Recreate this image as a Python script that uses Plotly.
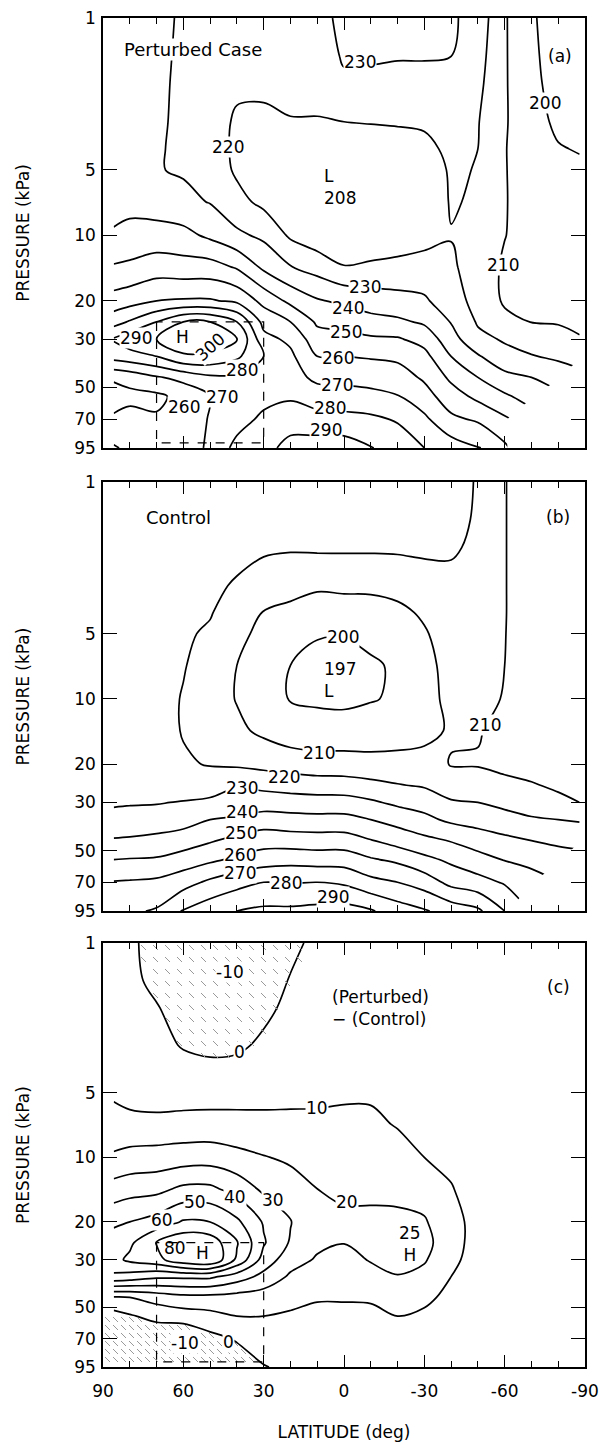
import numpy as np
import plotly.graph_objects as go

# ---------------------------------------------------------------- data
LAT = [86, 80, 70, 60, 50, 40, 30, 20, 10, 0, -10, -20, -30, -40, -50, -60, -70, -80, -88]
P_KPA = [1, 1.5, 2, 3, 4, 5, 7, 10, 14, 20, 25, 30, 36, 45, 55, 70, 95]

# zonal-mean temperature (K); one profile per latitude, 1 kPa -> 95 kPa.
# None marks levels below the Antarctic surface.
T_PERTURBED = [
    [236, 236, 236, 235, 235, 235, 237, 241, 251, 264, 276, 291, 284, 262, 254, 262, 271],
    [236, 236, 236, 235, 235, 235, 237, 243, 252, 266, 281, 296, 286, 264, 257, 264, 268],
    [232, 232, 232, 231.5, 231, 230.5, 235, 244, 255, 270, 290, 300, 290, 269, 258, 261, 263],
    [229, 228.5, 228, 228, 228, 229, 232.5, 243, 254, 271, 300, 305, 299, 273, 263, 262, 264],
    [228, 227, 226, 225, 225, 226, 229.5, 238, 254, 271, 300, 306, 298, 278, 270, 271, 272],
    [226, 225, 222, 218.5, 218, 218.5, 223, 232, 249, 268, 290, 301, 292, 278, 274, 276, 283],
    [226, 225, 222, 218, 217, 216.5, 217.5, 228, 238, 257, 267, 273, 280, 279, 277, 282, 287],
    [226, 225, 223, 219.5, 216, 214, 213.5, 218.5, 230.5, 247.5, 260, 268, 272, 275, 278.5, 286, 293],
    [226, 225, 223, 219.5, 214, 211, 210, 214, 226, 241, 248.5, 254, 260, 267, 276, 283, 295],
    [233, 231, 228.5, 220, 213, 209, 208, 212, 220.5, 238, 247, 253, 260, 267, 274, 283, 295],
    [234, 231, 228, 220.5, 215, 211, 209, 212, 222, 235, 243.5, 251.5, 259, 266.5, 272.5, 282, 290.5],
    [234, 230.5, 227.5, 221, 215.5, 211.5, 209.5, 213, 223.5, 233, 242, 251, 258, 264.5, 270.5, 279, 286],
    [234, 230.5, 227.5, 222, 216.5, 213, 211, 215, 225.5, 231, 238.5, 246.5, 253, 258.5, 264, 272, 280],
    [231.5, 230, 228, 225, 223, 221.5, 221, 219.5, 222, 226, 229.5, 234, 240, 248, 254.5, 262, 275],
    [226, 224, 222.5, 220.5, 220, 219.5, 218.5, 215, 214, 215.5, 219, 222.5, 231, 240, 247.5, 258.5, 271],
    [211, 211, 211, 211, 210.5, 210.5, 210.5, 210.2, 209, 209, 212, 219, 223, 233, 241.5, 251.5, 262],
    [201, 201.5, 202, 203, 204, 205, 206, 207, 207.5, 208.5, 209.8, 216, 220.5, 230, 236, None, None],
    [196, 196.5, 197, 198.5, 200.5, 202, 204, 205.5, 206.5, 207.5, 209.5, 212.5, 218.5, 225, None, None, None],
    [194, 194.5, 195.5, 197.5, 199.5, 201.5, 203.5, 205, 206, 207, 208.5, 210.5, 215, None, None, None, None],
]

T_CONTROL = [
    [225, 225, 225, 225, 225, 225, 225, 225, 225.5, 226.5, 227.5, 229, 232.5, 241, 250, 260.5, 268],
    [224.5, 224.5, 224.5, 224.5, 224.5, 224.5, 224.5, 224.5, 225, 226, 227.5, 229.3, 233, 241.5, 250.5, 261, 268.5],
    [223.5, 223.5, 223, 223, 223, 223, 223, 223, 223.5, 225, 226.5, 229.5, 234, 243, 251, 262, 271],
    [223, 223, 222.5, 222, 221.5, 221, 220.5, 219.5, 219.5, 221, 225, 230.5, 236, 245, 254.5, 266, 281],
    [222.5, 222, 221.5, 221, 220.5, 219, 216.5, 215, 215.5, 219.5, 225, 232, 240, 249, 258, 272, 286],
    [222.5, 222, 221.5, 219.5, 216, 213, 210, 209.5, 212, 218.5, 229, 235.5, 241, 253, 262, 276.5, 290],
    [222.5, 222, 221, 217, 209.5, 207, 204.5, 204, 208, 217, 227.5, 235, 244.5, 256, 265, 280, 292],
    [222.5, 222, 221, 213.5, 207.5, 204, 200, 199.5, 204.5, 215.5, 226, 234.5, 243.5, 255, 266.5, 279.5, 292],
    [223, 222.5, 221.5, 211.5, 205, 200.5, 198, 198.5, 204, 214, 225, 234, 243, 254.5, 265.5, 280, 293],
    [223, 222.5, 221.5, 212, 205.5, 200.5, 197, 198, 204, 214, 224.5, 234, 243, 254.5, 265.5, 278.5, 294],
    [223, 222.5, 221.5, 212, 206, 202, 199, 199.5, 204, 213.5, 222.5, 231.5, 240, 250.5, 261, 273, 291],
    [223, 222.5, 221.5, 213.5, 207.5, 204, 201, 201, 205, 213.5, 220.5, 228, 236.5, 246, 258, 270, 285],
    [223, 222.5, 221.5, 216.5, 211.5, 209, 206.5, 206, 207.5, 213, 219, 226, 232.5, 242.5, 252.5, 265.5, 281],
    [222.5, 222, 221, 218, 216, 215, 214, 213, 211, 209.5, 215, 221, 228, 239.5, 248, 257, 276],
    [219.5, 219.2, 218.5, 217.5, 216.5, 215.5, 214, 212.5, 210.5, 209.5, 213.5, 220, 226, 235.5, 243.5, 253.5, 272],
    [210.3, 210.3, 210.3, 210.3, 210.3, 210.2, 210, 209.5, 208, 208.5, 211.5, 217.5, 223.5, 232.5, 239.5, 249, 260],
    [206, 206, 206, 206, 206, 206, 206, 206, 206, 207.5, 210.5, 215.5, 221, 230, 236.5, 245, None],
    [206, 206, 206, 206, 206, 206, 206, 206, 206, 207, 209, 211.5, 220, 228.5, 233.5, None, None],
    [206, 206, 206, 206, 206, 206, 206, 206, 206, 206.5, 207.5, 210, 219, 227.5, None, None, None],
]

# perturbed minus control (K)
T_DIFF = [
    [3, 3, 3.5, 4.5, 6, 8.8, 13, 21.5, 34, 48, 55, 57, 48, 9, -4, -8, -9],
    [2, 2, 2.5, 3.5, 4.5, 6, 13.5, 23, 36, 50, 58, 62, 46, 10, -1, -8, -9],
    [-4, -2, 0.5, 2, 3.5, 5, 13, 24, 37, 54, 70.5, 67, 42, 14, 3, -8, -9],
    [-9, -6, -3.5, -0.5, 2.5, 5.5, 13.5, 25, 42, 61, 78, 77, 42, 17, 5, -10, -9],
    [-10, -9.5, -7, -2, 2.5, 6, 13.5, 25.5, 42, 60, 76, 80, 42, 17, 7, -3, -8],
    [-9.5, -8.5, -6.5, -1.5, 3, 6.5, 13, 23, 36, 52, 61, 58, 35, 16, 10, 1, -6],
    [-6, -4, -2, 1.5, 4, 7, 12.5, 20.5, 28, 39, 41, 36, 27, 15, 10, 5, -0.5],
    [-2, 0.5, 2, 4, 5.5, 7.3, 12.5, 18.5, 24, 30.5, 29, 24, 18.5, 13.5, 8.5, 5, 2],
    [2, 2.5, 3.5, 5, 6.5, 8, 12, 15, 20, 22.5, 22, 19, 16, 11, 7, 4, 2],
    [1.5, 2.5, 3.5, 5.5, 7, 8.8, 12, 15, 18.5, 21.5, 20.2, 17.5, 15.5, 11, 7, 4, 2],
    [1.5, 2.5, 3.5, 5.5, 7, 9, 11.5, 14, 18, 22, 23, 20.5, 17.5, 11.5, 7, 4, 2],
    [1.5, 2, 3, 4.5, 6, 7, 9.5, 13, 17.5, 22, 25, 23.5, 19.5, 14, 10, 6, 3],
    [1, 1.5, 2, 3, 4, 5, 7, 10, 15.5, 21, 23.5, 21, 17, 12.5, 8, 5, 2.5],
    [1, 1, 1.2, 2, 3, 3.5, 5, 8, 10.5, 13, 13, 12, 10, 7, 5, 3, 1.5],
    [1, 1, 1, 1.2, 1.5, 2, 3, 4.5, 6, 7, 7, 6.5, 5.5, 4, 3, 2, 1.2],
    [1, 1, 1, 1.5, 1.5, 2, 2.5, 3, 3.5, 4, 4, 4, 3.5, 3, 2.5, 2, 1.5],
    [1, 1, 1, 1, 1.5, 1.5, 2, 2, 2.5, 3, 3, 3, 2.5, 2, 2, 1.5, 1],
    [1, 1, 1, 1, 1, 1, 1.5, 1.5, 2, 2, 2, 2, 2, 1.5, 1.5, 1, 1],
    [1, 1, 1, 1, 1, 1, 1, 1, 1.5, 1.5, 1.5, 1.5, 1.5, 1, 1, 1, 1],
]

PRESSURE_TICKS = [1, 5, 10, 20, 30, 50, 70, 95]
LAT_TICKS = [90, 60, 30, 0, -30, -60, -90]

# smoke-layer box (latitude edges, pressure edges)
SMOKE_LAT = [70, 70, 30, 30, 70]
SMOKE_P = [25, 90, 90, 25, 25]

# contour-level labels: (lat, kPa, text)
LABELS_A = [
    (43.3, 3.92, "220"), (-6, 1.59, "230"), (-75, 2.46, "200"), (-59.4, 13.7, "210"),
    (-7.8, 17.3, "230"), (-1.5, 21.6, "240"), (-0.7, 27.8, "250"), (2.2, 36.6, "260"),
    (2.6, 48.8, "270"), (5.2, 62.2, "280"), (6.7, 78.6, "290"), (77.7, 29.6, "290"),
    (38.1, 41.6, "280"), (45.6, 55.4, "270"), (59.8, 61.5, "260"),
]
LABELS_B = [
    (0.4, 5.18, "200"), (9.3, 17.8, "210"), (-52.6, 13.2, "210"), (22.4, 22.9, "220"),
    (38.1, 25.7, "230"), (38.1, 33.2, "240"), (38.5, 41.5, "250"), (38.8, 52.5, "260"),
    (38.8, 63.5, "270"), (21.7, 70.6, "280"), (4.1, 81.9, "290"),
]
LABELS_C = [
    (42.6, 1.37, "-10"), (39.2, 3.22, "0"), (10.1, 5.88, "10"), (-1.1, 16.1, "20"),
    (26.5, 15.8, "30"), (40.7, 15.3, "40"), (55.6, 16.1, "50"), (68, 19.6, "60"),
    (43, 72.6, "0"), (59.4, 73.4, "-10"),
]

# ---------------------------------------------------------------- layout geometry
FONT = "DejaVu Sans"
W, H = 599, 1450
M = dict(l=103, r=14, t=18, b=83)
DOMAINS = [[0.6813, 1.0], [0.3380, 0.6560], [0.0, 0.3143]]
AX = [("x", "y"), ("x2", "y2"), ("x3", "y3")]


def contour(cols, start, end, xa, ya, lat_min=None):
    lats = list(LAT)
    data = [list(c) for c in cols]
    if lat_min is not None:
        keep = [i for i, la in enumerate(LAT) if la <= lat_min]
        lats = [LAT[i] for i in keep]
        data = [data[i] for i in keep]
    z = np.array([[np.nan if v is None else v for v in c] for c in data], float).T
    return go.Contour(
        x=lats, y=P_KPA, z=z, xaxis=xa, yaxis=ya,
        autocontour=False, connectgaps=False,
        contours=dict(start=start, end=end, size=10, coloring="lines", showlabels=False),
        colorscale=[[0, "black"], [1, "black"]],
        line=dict(width=1.7, smoothing=1.0),
        showscale=False, hoverinfo="skip",
    )


def field_at(cols, lat, logp):
    z = np.asarray(cols, float)
    prof = np.array([np.interp(-lat, -np.asarray(LAT, float), z[:, k]) for k in range(z.shape[1])])
    return np.interp(logp, np.log10(P_KPA), prof)


def hatch(cols, dom, xa, ya, seg=5.0):
    """Diagonal dashes over the cooling (negative) areas; sparse aloft, denser near the ground."""
    h_px = (dom[1] - dom[0]) * (H - M["t"] - M["b"])
    w_px = W - M["l"] - M["r"]
    lmax = np.log10(95)
    xs, ys = [], []
    for step, top, bottom in ((12.0, 0.0, h_px * 0.5), (8.0, h_px * 0.5, h_px)):
        for py in np.arange(top + 2.0, min(bottom, h_px - seg), step):
            for px in np.arange(2.0, w_px - seg, step):
                lat = 90 - px * 180 / w_px
                lp = py * lmax / h_px
                if field_at(cols, lat, lp) < 0:
                    xs += [lat, lat - seg * 180 / w_px, None]
                    ys += [10 ** lp, 10 ** (lp + seg * lmax / h_px), None]
    return go.Scatter(x=xs, y=ys, mode="lines", xaxis=xa, yaxis=ya,
                      line=dict(color="#999", width=1), hoverinfo="skip", showlegend=False)


def smoke_box(xa, ya):
    return go.Scatter(x=SMOKE_LAT, y=SMOKE_P, mode="lines", xaxis=xa, yaxis=ya,
                      line=dict(color="black", width=1.2, dash="dash"),
                      hoverinfo="skip", showlegend=False)


def note(xa, ya, lat, p, text, bg="white", size=17, **kw):
    d = dict(x=lat, y=float(np.log10(p)), xref=xa, yref=ya, text=text, showarrow=False,
             font=dict(family=FONT, size=size, color="black"), borderpad=0)
    if bg:
        d["bgcolor"] = bg
    d.update(kw)
    return d


fig = go.Figure()
# panel (a): upper levels everywhere, the two coldest levels over the southern polar cap
fig.add_trace(contour(T_PERTURBED, 220, 300, "x", "y"))
fig.add_trace(contour(T_PERTURBED, 200, 210, "x", "y", lat_min=-40))
fig.add_trace(smoke_box("x", "y"))
fig.add_trace(contour(T_CONTROL, 200, 290, "x2", "y2"))
fig.add_trace(hatch(T_DIFF, DOMAINS[2], "x3", "y3"))
fig.add_trace(contour(T_DIFF, 0, 70, "x3", "y3"))
fig.add_trace(smoke_box("x3", "y3"))

ann = []
for lat, p, t in LABELS_A:
    ann.append(note("x", "y", lat, p, t))
ann.append(note("x", "y", 50, 32.6, "300", textangle=-42))
ann.append(note("x", "y", 60.3, 29.3, "H", bg=None))
ann.append(note("x", "y", 1.5, 6.0, "L<br>208", bg=None, align="left"))
ann.append(note("x", "y", 82.5, 1.40, "Perturbed Case", size=18, xanchor="left"))
ann.append(note("x", "y", -80.6, 1.50, "(a)", bg=None))

for lat, p, t in LABELS_B:
    ann.append(note("x2", "y2", lat, p, t))
ann.append(note("x2", "y2", 1.5, 8.18, "197<br>L", bg=None, align="left"))
ann.append(note("x2", "y2", 74.3, 1.45, "Control", size=18, xanchor="left"))
ann.append(note("x2", "y2", -80, 1.45, "(b)", bg=None))

for lat, p, t in LABELS_C:
    ann.append(note("x3", "y3", lat, p, t))
ann.append(note("x3", "y3", 63.1, 26.5, "80", bg=None))
ann.append(note("x3", "y3", 53, 27.9, "H", bg=None))
ann.append(note("x3", "y3", -24.6, 25.3, "25<br>H", bg=None))
ann.append(note("x3", "y3", 4.9, 2.01, "(Perturbed)<br>\u2212 (Control)",
                xanchor="left", align="left", bg=None))
ann.append(note("x3", "y3", -80, 1.60, "(c)", bg=None))

layout = dict(
    width=W, height=H, margin=M, paper_bgcolor="white", plot_bgcolor="white",
    showlegend=False, font=dict(family=FONT, size=17, color="black"), annotations=ann,
)
for i, (xa, ya) in enumerate(AX):
    xkey = "xaxis" if i == 0 else f"xaxis{i + 1}"
    ykey = "yaxis" if i == 0 else f"yaxis{i + 1}"
    layout[xkey] = dict(
        domain=[0, 1], anchor=ya, range=[90, -90], automargin=False,
        tickmode="array", tickvals=LAT_TICKS, ticktext=[str(v) for v in LAT_TICKS],
        showticklabels=(i == 2), ticks="inside", ticklen=12, tickwidth=1.3, tickcolor="black",
        ticklabelstandoff=8,
        minor=dict(tickmode="linear", tick0=0, dtick=10, ticks="inside", ticklen=6,
                   tickwidth=1.1, tickcolor="black"),
        showline=True, linecolor="black", linewidth=1.6, mirror="ticks",
        showgrid=False, zeroline=False,
        tickfont=dict(family=FONT, size=17, color="black"),
    )
    layout[ykey] = dict(
        domain=DOMAINS[i], anchor=xa, type="log", range=[float(np.log10(95)), 0],
        automargin=False,
        tickmode="array", tickvals=PRESSURE_TICKS, ticktext=[str(v) for v in PRESSURE_TICKS],
        ticks="inside", ticklen=14, tickwidth=1.3, tickcolor="black", ticklabelstandoff=2,
        showline=True, linecolor="black", linewidth=1.6, mirror="ticks",
        showgrid=False, zeroline=False,
        tickfont=dict(family=FONT, size=17, color="black"),
        title=dict(text="PRESSURE (kPa)", font=dict(family=FONT, size=17, color="black"), standoff=40),
    )
layout["xaxis3"]["title"] = dict(text="LATITUDE (deg)", font=dict(family=FONT, size=17, color="black"),
                                  standoff=26)

fig.update_layout(**layout)
fig.write_html("out.html")
